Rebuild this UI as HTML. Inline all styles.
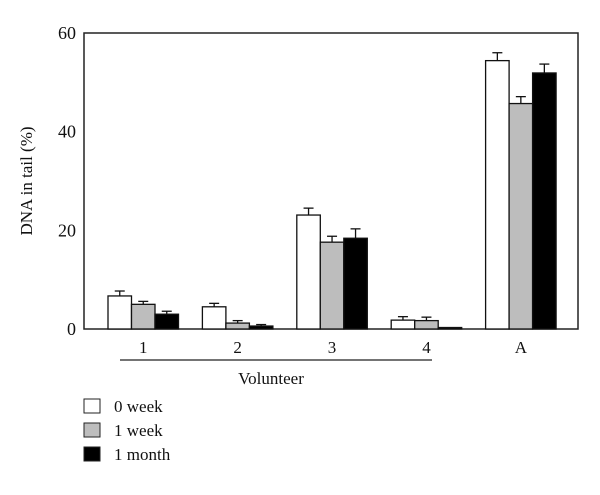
<!DOCTYPE html>
<html><head><meta charset="utf-8"><style>
body{margin:0;background:#fff}
svg text{font-family:"Liberation Serif",serif;fill:#111}
</style></head><body>
<svg id="chart" width="600" height="490" xmlns="http://www.w3.org/2000/svg">
<rect x="84" y="33" width="494" height="296" fill="none" stroke="#222" stroke-width="1.5"/>
<g id="bars"></g>
<text x="32" y="181" font-size="17" text-anchor="middle" transform="rotate(-90 32 181)">DNA in tail (%)</text>
<line x1="120" y1="360" x2="432" y2="360" stroke="#222" stroke-width="1.2"/>
<text x="271" y="384" font-size="17" text-anchor="middle">Volunteer</text>
<g>
<rect x="84" y="399" width="16" height="14" fill="#fff" stroke="#222"/>
<text x="114" y="412" font-size="17">0 week</text>
<rect x="84" y="423" width="16" height="14" fill="#bdbdbd" stroke="#222"/>
<text x="114" y="436" font-size="17">1 week</text>
<rect x="84" y="447" width="16" height="14" fill="#000" stroke="#222"/>
<text x="114" y="460" font-size="17">1 month</text>
</g>
</svg>
<script>
const categories = ["1","2","3","4","A"];
const series = ["0 week","1 week","1 month"];
const week0 = [6.7, 4.5, 23.1, 1.8, 54.4];
const week1 = [5.0, 1.2, 17.6, 1.7, 45.7];
const month1 = [3.0, 0.6, 18.4, 0.3, 51.9];
const err0 = [1.0, 0.7, 1.4, 0.7, 1.6];
const err1 = [0.6, 0.5, 1.2, 0.7, 1.4];
const err2 = [0.6, 0.3, 1.9, 0.0, 1.8];
const yTicks = [0, 20, 40, 60];

const NS = "http://www.w3.org/2000/svg";
const svg = document.getElementById("chart");
const g = document.getElementById("bars");
const y0 = 329, yTop = 33, yMax = 60;
const yScale = v => y0 - v / yMax * (y0 - yTop);
const groupStart = i => 108 + i * 94.4;
const bw = 23.5;
const fills = ["#fff", "#bdbdbd", "#000"];
const vals = [week0, week1, month1];
const errs = [err0, err1, err2];

function mk(tag, attrs) {
  const e = document.createElementNS(NS, tag);
  for (const k in attrs) e.setAttribute(k, attrs[k]);
  return e;
}

yTicks.forEach(t => {
  const tx = mk("text", {x: 76, y: yScale(t) + 6, "font-size": 18, "text-anchor": "end"});
  
  
  tx.textContent = t;
  svg.appendChild(tx);
});

categories.forEach((c, i) => {
  for (let s = 0; s < 3; s++) {
    const x = groupStart(i) + s * bw;
    const v = vals[s][i], e = errs[s][i];
    const cx = x + bw / 2;
    if (e > 0) {
      const el = mk("line", {x1: cx, x2: cx, y1: yScale(v), y2: yScale(v + e), stroke: "#111", "stroke-width": 1.3});
      
      
      g.appendChild(el);
      const cap = mk("line", {x1: cx - 5, x2: cx + 5, y1: yScale(v + e), y2: yScale(v + e), stroke: "#111", "stroke-width": 1.3});
      
      
      g.appendChild(cap);
    }
    const r = mk("rect", {x: x, y: yScale(v), width: bw, height: y0 - yScale(v), fill: fills[s], stroke: "#111", "stroke-width": 1.3});
    
    
    g.appendChild(r);
  }
  const lab = mk("text", {x: groupStart(i) + bw * 1.5, y: 353, "font-size": 17, "text-anchor": "middle"});
  
  
  lab.textContent = c;
  svg.appendChild(lab);
});
</script>
</body></html>
